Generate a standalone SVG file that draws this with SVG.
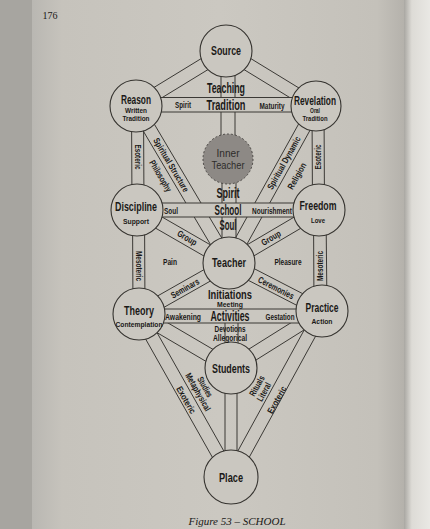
<svg xmlns="http://www.w3.org/2000/svg" width="430" height="529" viewBox="0 0 430 529">
<defs>
<linearGradient id="pg" x1="0" y1="0" x2="1" y2="0">
<stop offset="0" stop-color="#b9b7b2"/>
<stop offset="0.08" stop-color="#c6c3bc"/>
<stop offset="0.5" stop-color="#cbc8c1"/>
<stop offset="0.92" stop-color="#c4c1ba"/>
<stop offset="1" stop-color="#b3b0aa"/>
</linearGradient>
<linearGradient id="curl" x1="0" y1="0" x2="1" y2="0">
<stop offset="0" stop-color="#a9a7a2"/>
<stop offset="0.3" stop-color="#dddbd6"/>
<stop offset="1" stop-color="#e9e8e4"/>
</linearGradient>
<style>
.ln{stroke:#3b3935;stroke-width:1;fill:none}
.mk{fill:#cac7c0;stroke:none}
.nd{fill:#cac7c0;stroke:#35332f;stroke-width:1.1}
text{font-family:"Liberation Sans",Arial,sans-serif;fill:#1a1917;text-anchor:middle;dominant-baseline:central}
.n{font-size:13px;font-weight:bold}
.s{font-size:8px;font-weight:bold}
.c{font-size:9px;font-weight:bold}
.m{font-size:14px;font-weight:bold}
.it{font-family:"Liberation Serif",serif;font-style:italic;font-size:11px}
.pn{font-family:"Liberation Serif",serif;font-size:10px}
</style>
</defs>
<rect x="0" y="0" width="430" height="529" fill="#a7a5a0"/>
<rect x="32" y="0" width="375" height="529" fill="url(#pg)"/>
<rect x="404" y="0" width="26" height="529" fill="url(#curl)"/>
<text class="pn" x="50" y="15">176</text>

<g id="connectors">
<line class="ln" x1="222.6" y1="45.5" x2="132.6" y2="100.5"/>
<line class="ln" x1="229.4" y1="56.5" x2="139.4" y2="111.5"/>
<line class="ln" x1="222.6" y1="56.5" x2="312.6" y2="111.5"/>
<line class="ln" x1="229.4" y1="45.5" x2="319.4" y2="100.5"/>
<line class="ln" x1="221" y1="51" x2="221" y2="159"/>
<line class="ln" x1="235" y1="51" x2="235" y2="159"/>
<line class="ln" x1="222" y1="159" x2="222" y2="263"/>
<line class="ln" x1="236" y1="159" x2="236" y2="263"/>
<line class="ln" x1="131.5" y1="106" x2="132" y2="210"/>
<line class="ln" x1="143.5" y1="106" x2="144" y2="210"/>
<line class="ln" x1="132.5" y1="210" x2="133" y2="314"/>
<line class="ln" x1="144.5" y1="210" x2="145" y2="314"/>
<line class="ln" x1="312" y1="106" x2="312.5" y2="210"/>
<line class="ln" x1="324" y1="106" x2="324.5" y2="210"/>
<line class="ln" x1="313.5" y1="210" x2="314" y2="311"/>
<line class="ln" x1="326" y1="210" x2="327" y2="311"/>
<line class="ln" x1="130.4" y1="109.3" x2="223.4" y2="266.3"/>
<line class="ln" x1="141.6" y1="102.7" x2="234.6" y2="259.7"/>
<line class="ln" x1="310.3" y1="102.9" x2="223.3" y2="259.9"/>
<line class="ln" x1="321.7" y1="109.2" x2="234.7" y2="266.2"/>
<line class="ln" x1="133.8" y1="215.6" x2="225.8" y2="268.6"/>
<line class="ln" x1="140.2" y1="204.4" x2="232.2" y2="257.4"/>
<line class="ln" x1="315.7" y1="204.4" x2="225.7" y2="257.4"/>
<line class="ln" x1="322.3" y1="215.6" x2="232.3" y2="268.6"/>
<line class="ln" x1="142.2" y1="319.7" x2="232.2" y2="268.7"/>
<line class="ln" x1="135.8" y1="308.3" x2="225.8" y2="257.3"/>
<line class="ln" x1="325" y1="305.2" x2="232" y2="257.2"/>
<line class="ln" x1="319" y1="316.8" x2="226" y2="268.8"/>
<line class="ln" x1="135.5" y1="320" x2="227.5" y2="374"/>
<line class="ln" x1="142.5" y1="308" x2="234.5" y2="362"/>
<line class="ln" x1="318.5" y1="305.5" x2="227.5" y2="362.5"/>
<line class="ln" x1="325.5" y1="316.5" x2="234.5" y2="373.5"/>
<line class="ln" x1="133.3" y1="317.2" x2="225.3" y2="480.2"/>
<line class="ln" x1="144.7" y1="310.8" x2="236.7" y2="473.8"/>
<line class="ln" x1="316.3" y1="307.9" x2="225.3" y2="473.9"/>
<line class="ln" x1="327.7" y1="314.1" x2="236.7" y2="480.1"/>
<line class="ln" x1="225" y1="368" x2="225" y2="477"/>
<line class="ln" x1="237" y1="368" x2="237" y2="477"/>
<line class="ln" x1="225" y1="323" x2="225" y2="368"/>
<line class="ln" x1="238" y1="323" x2="238" y2="368"/>
<rect class="mk" x="136" y="97.5" width="180" height="14.5"/>
<line class="ln" x1="136" y1="97.5" x2="316" y2="97.5"/>
<line class="ln" x1="136" y1="112" x2="316" y2="112"/>
<rect class="mk" x="137" y="203" width="182" height="14"/>
<line class="ln" x1="137" y1="203" x2="319" y2="203"/>
<line class="ln" x1="137" y1="217" x2="319" y2="217"/>
<rect class="mk" x="139" y="309" width="183" height="14"/>
<line class="ln" x1="139" y1="309" x2="322" y2="309"/>
<line class="ln" x1="139" y1="323" x2="322" y2="323"/>
</g>

<g id="source"><circle class="nd" cx="226" cy="51" r="26"/><text class="n" x="226" y="50" textLength="30" lengthAdjust="spacingAndGlyphs">Source</text></g>
<g id="reason"><circle class="nd" cx="136" cy="106" r="26"/><text class="n" x="136" y="99" textLength="30" lengthAdjust="spacingAndGlyphs">Reason</text><text class="s" x="136" y="110.5" textLength="22" lengthAdjust="spacingAndGlyphs">Written</text><text class="s" x="136" y="118" textLength="27" lengthAdjust="spacingAndGlyphs">Tradition</text></g>
<g id="revelation"><circle class="nd" cx="316" cy="106" r="25"/><text class="n" x="315" y="100" textLength="42" lengthAdjust="spacingAndGlyphs">Revelation</text><text class="s" x="315" y="110.5" textLength="10" lengthAdjust="spacingAndGlyphs">Oral</text><text class="s" x="315" y="118" textLength="25" lengthAdjust="spacingAndGlyphs">Tradition</text></g>
<g id="inner-teacher"><circle cx="228" cy="159" r="25" fill="#8d8985" stroke="#4a4744" stroke-width="1" stroke-dasharray="2 2"/><text x="228" y="153" style="font-size:11.5px;fill:#2e2c2a" textLength="23" lengthAdjust="spacingAndGlyphs">Inner</text><text x="228" y="164.5" style="font-size:11.5px;fill:#2e2c2a" textLength="33" lengthAdjust="spacingAndGlyphs">Teacher</text></g>
<g id="discipline"><circle class="nd" cx="137" cy="210" r="26"/><text class="n" x="136" y="206" textLength="42" lengthAdjust="spacingAndGlyphs">Discipline</text><text class="s" x="136" y="221" textLength="26" lengthAdjust="spacingAndGlyphs">Support</text></g>
<g id="freedom"><circle class="nd" cx="319" cy="210" r="26"/><text class="n" x="318" y="205" textLength="37" lengthAdjust="spacingAndGlyphs">Freedom</text><text class="s" x="318" y="220" textLength="14" lengthAdjust="spacingAndGlyphs">Love</text></g>
<g id="teacher"><circle class="nd" cx="229" cy="263" r="26"/><text class="n" x="229" y="262" textLength="34" lengthAdjust="spacingAndGlyphs">Teacher</text></g>
<g id="theory"><circle class="nd" cx="139" cy="314" r="26"/><text class="n" x="139" y="310" textLength="30" lengthAdjust="spacingAndGlyphs">Theory</text><text class="s" x="139" y="324" textLength="47" lengthAdjust="spacingAndGlyphs">Contemplation</text></g>
<g id="practice"><circle class="nd" cx="322" cy="311" r="26"/><text class="n" x="322" y="307" textLength="33" lengthAdjust="spacingAndGlyphs">Practice</text><text class="s" x="322" y="321" textLength="21" lengthAdjust="spacingAndGlyphs">Action</text></g>
<g id="students"><circle class="nd" cx="231" cy="368" r="26"/><text class="n" x="231" y="368" textLength="38" lengthAdjust="spacingAndGlyphs">Students</text></g>
<g id="place"><circle class="nd" cx="231" cy="477" r="27"/><text class="n" x="231" y="477" textLength="24" lengthAdjust="spacingAndGlyphs">Place</text></g>

<g id="labels">
<text class="m" x="226" y="88" textLength="38" lengthAdjust="spacingAndGlyphs">Teaching</text>
<text class="m" x="226" y="105" textLength="39" lengthAdjust="spacingAndGlyphs">Tradition</text>
<text class="c" x="183" y="105" textLength="16" lengthAdjust="spacingAndGlyphs">Spirit</text>
<text class="c" x="272" y="106" textLength="25" lengthAdjust="spacingAndGlyphs">Maturity</text>
<text class="c" transform="translate(137.5,157) rotate(90)" textLength="25" lengthAdjust="spacingAndGlyphs">Esoteric</text>
<text class="c" transform="translate(318,157) rotate(-90)" textLength="25" lengthAdjust="spacingAndGlyphs">Esoteric</text>
<text class="c" transform="translate(138.5,266) rotate(90)" textLength="30" lengthAdjust="spacingAndGlyphs">Mesoteric</text>
<text class="c" transform="translate(320,266) rotate(-90)" textLength="30" lengthAdjust="spacingAndGlyphs">Mesoteric</text>
<text class="c" transform="translate(171,165) rotate(59.4)" textLength="61" lengthAdjust="spacingAndGlyphs">Spiritual Structure</text>
<text class="c" transform="translate(160.5,176) rotate(59.4)" textLength="35" lengthAdjust="spacingAndGlyphs">Philosophy</text>
<text class="c" transform="translate(284,163) rotate(-61)" textLength="59" lengthAdjust="spacingAndGlyphs">Spiritual Dynamic</text>
<text class="c" transform="translate(297,176) rotate(-61)" textLength="29" lengthAdjust="spacingAndGlyphs">Religion</text>
<text class="m" x="228" y="193" textLength="23" lengthAdjust="spacingAndGlyphs">Spirit</text>
<text class="m" x="228" y="210" textLength="27" lengthAdjust="spacingAndGlyphs">School</text>
<text class="m" x="228" y="225" textLength="17" lengthAdjust="spacingAndGlyphs">Soul</text>
<text class="c" x="171" y="211" textLength="14" lengthAdjust="spacingAndGlyphs">Soul</text>
<text class="c" x="272" y="211" textLength="40" lengthAdjust="spacingAndGlyphs">Nourishment</text>
<text class="c" transform="translate(187,238) rotate(30)" textLength="21" lengthAdjust="spacingAndGlyphs">Group</text>
<text class="c" transform="translate(271,238) rotate(-30.5)" textLength="21" lengthAdjust="spacingAndGlyphs">Group</text>
<text class="c" x="170" y="262" textLength="14" lengthAdjust="spacingAndGlyphs">Pain</text>
<text class="c" x="288" y="262" textLength="27" lengthAdjust="spacingAndGlyphs">Pleasure</text>
<text class="c" transform="translate(185,288.5) rotate(-29.5)" textLength="31" lengthAdjust="spacingAndGlyphs">Seminars</text>
<text class="c" transform="translate(276,288) rotate(27)" textLength="39" lengthAdjust="spacingAndGlyphs">Ceremonies</text>
<text class="m" x="230" y="294" style="font-size:13px" textLength="44" lengthAdjust="spacingAndGlyphs">Initiations</text>
<text class="c" x="230" y="304.5" style="font-size:8px" textLength="26" lengthAdjust="spacingAndGlyphs">Meeting</text>
<text class="m" x="230" y="316" textLength="39" lengthAdjust="spacingAndGlyphs">Activities</text>
<text class="c" x="183" y="317" textLength="36" lengthAdjust="spacingAndGlyphs">Awakening</text>
<text class="c" x="280" y="317" textLength="29" lengthAdjust="spacingAndGlyphs">Gestation</text>
<text class="c" x="230" y="329" textLength="31" lengthAdjust="spacingAndGlyphs">Devotions</text>
<text class="c" x="230" y="338" textLength="34" lengthAdjust="spacingAndGlyphs">Allegorical</text>
<text class="c" transform="translate(186,400) rotate(60.6)" textLength="30" lengthAdjust="spacingAndGlyphs">Exoteric</text>
<text class="c" transform="translate(205,387) rotate(60.6)" textLength="22" lengthAdjust="spacingAndGlyphs">Studies</text>
<text class="c" transform="translate(198,392) rotate(60.6)" textLength="42" lengthAdjust="spacingAndGlyphs">Metaphysical</text>
<text class="c" transform="translate(277,400) rotate(-61)" textLength="30" lengthAdjust="spacingAndGlyphs">Exoteric</text>
<text class="c" transform="translate(257,386) rotate(-61)" textLength="22" lengthAdjust="spacingAndGlyphs">Rituals</text>
<text class="c" transform="translate(264,392) rotate(-61)" textLength="20" lengthAdjust="spacingAndGlyphs">Literal</text>
</g>
<text class="it" x="237" y="521">Figure 53 – SCHOOL</text>
</svg>
